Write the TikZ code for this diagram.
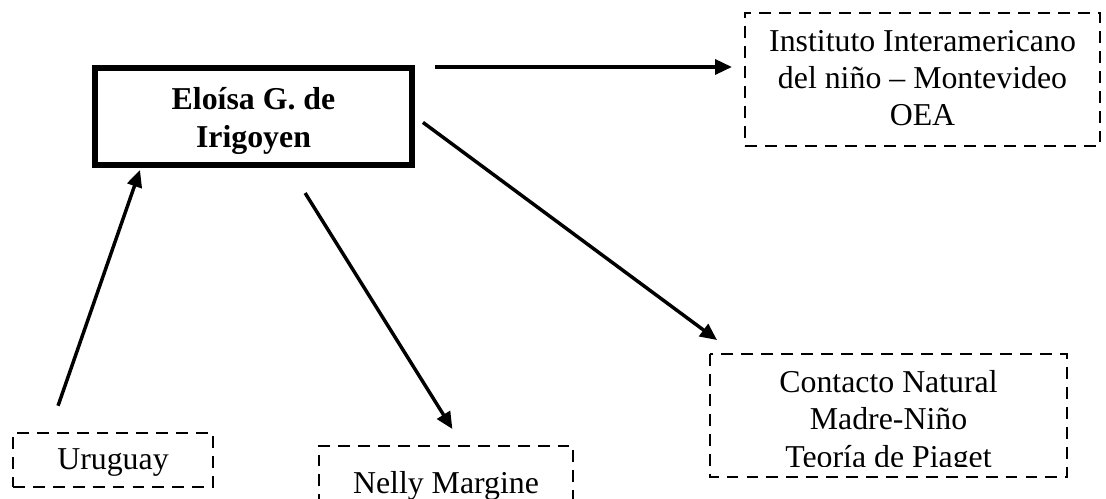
\documentclass[tikz,border=0pt]{standalone}
\usepackage{fontspec}
\setmainfont{Liberation Serif}
\usetikzlibrary{arrows.meta,calc}

\begin{document}
\begin{tikzpicture}[x=0.3613pt,y=-0.3613pt,>={Triangle[length=6.1pt,width=5.4pt]},
	dashbox/.style={draw,line width=1pt,dash pattern=on 4.3pt off 2.9pt,inner sep=0pt,align=center,font={\fontsize{11.5pt}{13.4pt}\selectfont}},
	mainbox/.style={draw,line width=2.17pt,inner sep=0pt,align=center,font={\fontsize{11.5pt}{13.4pt}\selectfont\bfseries}},
	link/.style={->,line width=1.25pt}]
		\useasboundingbox (0,0) rectangle (1106,499);
		\node[mainbox,minimum width=114.5pt,minimum height=35pt,text height=24.6pt] (irigoyen) at (253.5,116.5) {Eloísa G. de\\Irigoyen};
		\node[dashbox,minimum width=128.3pt,minimum height=48.1pt,text height=33.6pt] (instituto) at (922.5,79.5) {Instituto Interamericano\\del niño -- Montevideo\\OEA};
		\node[dashbox,minimum width=72.3pt,minimum height=19.5pt,text height=9.7pt] (uruguay) at (113,460) {Uruguay};
		\node[dashbox,minimum width=91.8pt,minimum height=29.3pt,text height=7.9pt] (nelly) at (446,486.5) {Nelly Margine};
		\begin{scope}
			\clip (700,340) rectangle (1080,467);
			\node[dashbox,draw=none,outer sep=0pt,minimum width=129pt,minimum height=44.4pt,text height=39.7pt] (contacto) at (888.5,415.5) {Contacto Natural\\Madre-Niño\\Teoría de Piaget};
		\end{scope}
		\draw[dashbox] (contacto.north west) rectangle (contacto.south east);
		\draw[link,shorten <=9.9pt,shorten >=0.8pt] ($(uruguay.north west)+(37.5,0)$)--($(irigoyen.south west)+(48.7,0)$);
		\draw[link,shorten <=10.7pt,shorten >=6.6pt] ($(irigoyen.south west)+(197.4,0)$)--($(nelly.north west)+(144.5,0)$);
		\draw[link,shorten <=3.6pt,shorten >=8.5pt] (irigoyen.east)--($(contacto.north west)+(26,0)$);
		\draw[link,shorten <=7.2pt,shorten >=4.2pt] ($(irigoyen.east)+(0,-49.5)$)--($(instituto.west)+(0,-12.5)$);
	\end{tikzpicture}
\end{document}
